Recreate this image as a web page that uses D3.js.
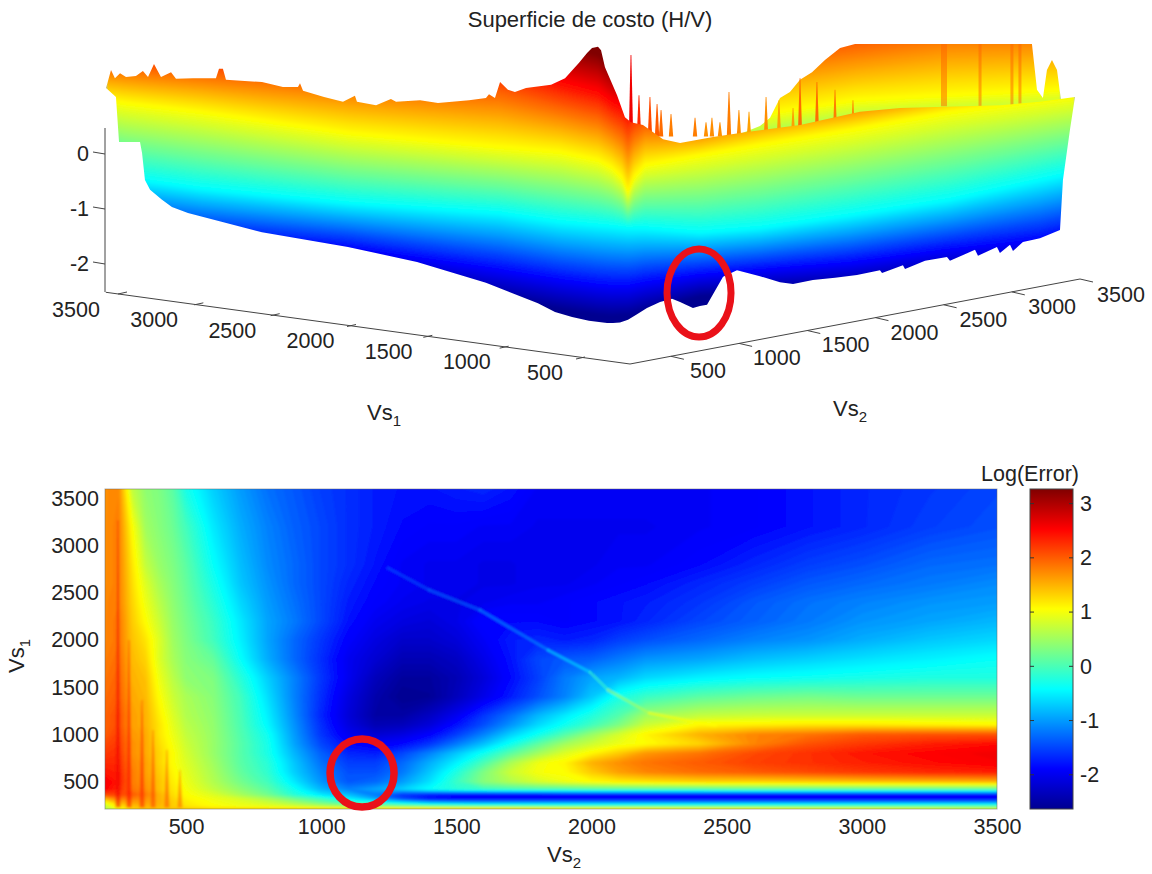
<!DOCTYPE html>
<html>
<head>
<meta charset="utf-8">
<script src="https://cdn.jsdelivr.net/npm/d3@7/dist/d3.min.js"></script>
<style>
  html, body { margin: 0; background: #fff; }
  svg { display: block; font-family: "Liberation Sans", Arial, sans-serif; fill: #222; }
</style>
</head>
<body>
<div id="vis"></div>
<script>
// Valores. Wall = pared frontal de la superficie 3D:
// posicion negativa = lado Vs1, positiva = lado Vs2, 0 = esquina del piso.
const zTicks = [0, -1, -2];
const floorTicks = [500, 1000, 1500, 2000, 2500, 3000, 3500];
const barTicks = [3, 2, 1, 0, -1, -2];
const heatTicksX = [500, 1000, 1500, 2000, 2500, 3000, 3500];
const heatTicksY = [500, 1000, 1500, 2000, 2500, 3000, 3500];

// silueta frontal: borde superior
const topPos = [-3582,-3548,-3521,-3486,-3445,-3377,-3329,-3294,-3253,-3205,-3136,-3102,-2985,-2828,-2807,-2780,-2759,-2512,-2368,-2265,-2251,-2230,-2086,-1956,-1874,-1860,-1729,-1627,-1592,-1427,-1304,-1091,-975,-954,-913,-878,-824,-776,-700,-528,-432,-336,-281,-247,-206,-185,-158,-75,-21,23,116,271,403,658,921,1332,1796,2106,2880,3190,3461];
const topZ = [1.18,1.51,1.36,1.45,1.38,1.40,1.49,1.38,1.62,1.38,1.47,1.35,1.36,1.36,1.53,1.53,1.33,1.29,1.20,1.20,1.27,1.13,1.02,.93,1.04,.93,.87,.98,.93,.96,.91,.96,1.00,1.07,1.00,1.29,1.15,1.11,1.18,1.24,1.36,1.64,1.82,1.91,1.93,1.87,1.56,1.05,.65,.56,.51,.25,.18,.29,.38,.51,.75,.82,.87,.93,1.02];
// silueta frontal: borde inferior
const lowPos = [-3582,-3514,-3493,-3349,-3335,-3315,-3280,-3198,-3130,-3020,-2512,-1922,-1448,-975,-618,-501,-384,-268,-144,-103,-55,0,70,147,248,341,403,503,557,612,736,844,1022,1177,1278,1432,1603,1773,1951,1967,2129,2145,2300,2470,2493,2687,2710,2857,2880,2958,2981,3058,3190,3345,3368,3422,3461];
const lowZ = [1.18,1.02,.20,.20,0,-.49,-.67,-.85,-.98,-1.09,-1.44,-1.71,-1.98,-2.36,-2.73,-2.89,-2.98,-3.05,-3.09,-3.09,-3.08,-3.03,-2.93,-2.82,-2.71,-2.65,-2.71,-2.82,-2.78,-2.76,-2.25,-2.13,-2.24,-2.35,-2.38,-2.31,-2.27,-2.22,-2.13,-2.18,-2.04,-2.11,-1.96,-1.89,-1.96,-1.76,-1.87,-1.71,-1.82,-1.67,-1.78,-1.62,-1.55,-1.40,-.49,.42,1.02];

// altura (z) donde la pared toma cada color puro
const isoPos = [-3576,-3452,-2937,-1915,-878,-467,-206,-110,-41,0,46,132,557,1022,1719,2493,3190,3461];
const isoBlue = [-1.22,-1.36,-1.51,-1.73,-2.13,-2.31,-2.40,-2.42,-2.42,-2.42,-2.40,-2.36,-2.22,-2.13,-2.0,-1.76,-1.58,-1.44];
const isoCyan = [-.35,-.45,-.64,-.91,-1.09,-1.25,-1.31,-1.33,-1.35,-1.36,-1.36,-1.36,-1.44,-1.36,-1.13,-.85,-.49,-.35];
const isoYellow = [.96,.91,.75,.36,.11,.02,-.13,-.27,-.45,-.72,-.45,-.22,-.04,.15,.42,.75,.96,1.04];
const isoRed = [1.96,1.96,1.91,1.82,1.71,1.33,1.15,.96,.87,.78,.87,.96,.78,1.05,1.24,1.51,1.69,1.96];

// capa trasera (lado Vs2, recortada arriba)
const backPos = [852,1022,1100,1177,1254,1332,1425,1525,1642,1758,3128,3167,3213,3244,3283,3322,3353];
const backTop = [.33,.49,.64,1.0,1.11,1.33,1.47,1.69,1.91,1.98,1.98,1.15,1.0,1.51,1.69,1.51,.96];
const backBaseZ = [-0.6, -0.6];
const backIsoPos = [852,1177,1758,2500,3353];
const backBlue = [-1.2,-1.0,-.8,-.7,-.6];
const backCyan = [-.4,-.22,-.1,-.05,0];
const backYellow = [.6,.75,.96,1.05,1.15];
const backRed = [2.05,2.42,2.6,2.96,2.96];

// picos sobre la pared
const spikePos = [23,85,170,225,256,333,519,604,650,712,782,859,937,1069,1169,1278,1332,1463,1603,1742];
const spikeZ = [1.78,1.05,1.02,.89,.78,.71,.64,.56,.64,.56,1.11,.78,.75,1.02,.96,.82,1.36,1.29,1.15,.96];
const spikeLevel = [2.6,2.3,2.1,2,1.9,1.8,1.8,1.7,1.7,1.7,1.8,1.7,1.6,1.7,1.6,1.6,1.9,1.9,1.8,1.7];
const streakPos = [2447,2726,2973,3035];
const streakWidth = [6,3,3,3];

// mapa Log(Error): filas Vs1 de arriba abajo, columnas Vs2
const vs2Grid = [200,250,300,350,400,450,500,600,700,800,900,1000,1100,1200,1300,1400,1500,1600,1700,1800,1900,2000,2100,2200,2400,2600,2800,3000,3250,3500];
const vs1Grid = [3600,3200,2800,2600,2400,2200,2000,1800,1600,1400,1200,1100,1000,900,800,700,600,500,420,360,320,280,240,210];
const logError = [
[1.7,1.75,.7,.4,.3,.1,-.3,-.7,-1,-1.25,-1.4,-1.55,-1.65,-1.75,-1.8,-1.8,-1.75,-1.7,-1.8,-1.95,-1.95,-1.95,-1.95,-1.95,-1.95,-1.9,-1.8,-1.7,-1.6,-1.5],
[1.7,1.8,1.05,.5,.35,.2,-.05,-.55,-.9,-1.15,-1.35,-1.5,-1.65,-1.75,-1.85,-1.9,-1.9,-1.95,-1.95,-2,-2,-2,-2,-2,-1.95,-1.9,-1.8,-1.7,-1.55,-1.45],
[1.7,1.8,1.2,.7,.45,.3,.1,-.4,-.8,-1.1,-1.3,-1.5,-1.65,-1.8,-1.95,-2,-2,-2.05,-2.05,-2,-2,-2,-1.95,-1.95,-1.85,-1.7,-1.55,-1.45,-1.3,-1.25],
[1.7,1.8,1.25,.85,.55,.35,.15,-.3,-.75,-1.05,-1.3,-1.5,-1.7,-1.85,-1.95,-2,-2,-2.05,-2.05,-2,-2,-1.95,-1.9,-1.85,-1.7,-1.55,-1.4,-1.3,-1.2,-1.1],
[1.75,1.8,1.3,.95,.65,.4,.2,-.2,-.65,-1,-1.25,-1.5,-1.75,-1.9,-2,-2.05,-2.05,-2,-1.95,-1.95,-1.9,-1.85,-1.8,-1.75,-1.6,-1.4,-1.25,-1.15,-1.05,-1],
[1.75,1.85,1.35,1.05,.75,.45,.25,-.1,-.55,-.95,-1.2,-1.5,-1.8,-2,-2.1,-2.15,-2.05,-1.85,-1.85,-1.85,-1.9,-1.85,-1.8,-1.7,-1.5,-1.35,-1.2,-1.05,-.95,-.85],
[1.75,1.85,1.4,1.2,.85,.5,.3,-.05,-.5,-.95,-1.3,-1.6,-1.9,-2.1,-2.25,-2.25,-2.15,-1.95,-1.75,-1.7,-1.75,-1.7,-1.55,-1.45,-1.3,-1.15,-1.05,-.9,-.75,-.65],
[1.8,1.9,1.45,1.3,.85,.55,.35,.15,-.4,-.9,-1.3,-1.65,-2,-2.2,-2.4,-2.4,-2.3,-2.05,-1.8,-1.5,-1.4,-1.35,-1.2,-1.05,-.95,-.8,-.7,-.6,-.5,-.4],
[1.85,1.95,1.5,1.4,.95,.65,.4,.3,-.2,-.7,-1.15,-1.6,-2,-2.35,-2.55,-2.55,-2.4,-2.15,-1.85,-1.55,-1.2,-.95,-.85,-.65,-.5,-.4,-.35,-.3,-.25,-.25],
[1.9,2,1.55,1.45,1.05,.75,.55,.35,-.05,-.6,-1.15,-1.65,-2.1,-2.45,-2.64,-2.6,-2.35,-2.05,-1.75,-1.45,-1.15,-.75,-.3,-.1,.1,.2,.25,.2,.2,.2],
[1.95,2.1,1.6,1.5,1.15,.85,.6,.4,0,-.5,-1.1,-1.7,-2.15,-2.5,-2.5,-2.3,-2,-1.6,-1.25,-.85,-.55,-.25,.05,.5,.7,.75,.75,.75,.75,.75],
[1.95,2.1,1.6,1.5,1.2,.9,.65,.42,.02,-.45,-1.05,-1.65,-2.1,-2.4,-2.35,-2.15,-1.8,-1.45,-1.05,-.65,-.35,-.05,.3,.75,1.1,1.15,1.2,1.2,1.15,1.1],
[2,2.15,1.65,1.55,1.2,.95,.7,.44,.05,-.35,-1,-1.6,-2,-2.2,-2.1,-1.9,-1.55,-1.15,-.7,-.35,.05,.45,.8,1.1,1.5,1.75,1.85,2,2.05,2.05],
[2.1,2.2,1.7,1.55,1.25,1,.75,.45,.08,-.3,-.95,-1.5,-1.85,-1.95,-1.85,-1.6,-1.2,-.8,-.35,.1,.5,.75,.95,1.05,1.3,1.75,2.05,2.2,2.35,2.45],
[2.2,2.25,1.7,1.55,1.3,1.05,.8,.45,.08,-.28,-.85,-1.35,-1.7,-1.75,-1.5,-1.15,-.75,-.35,.1,.5,.85,1.1,1.35,1.65,1.85,2.1,2.25,2.4,2.5,2.6],
[2.3,2.3,1.75,1.6,1.3,1.05,.85,.5,.1,-.2,-.75,-1.25,-1.55,-1.55,-1.3,-.9,-.5,0,.55,.95,1.1,1.5,1.7,1.85,2,2.15,2.25,2.35,2.45,2.55],
[2.4,2.35,1.8,1.6,1.35,1.1,.9,.55,.15,-.15,-.7,-1.15,-1.45,-1.45,-1.2,-.75,-.25,.3,.75,1,1.05,1.35,1.6,1.75,1.9,2,2.1,2.2,2.3,2.35],
[2.55,2.4,1.8,1.65,1.4,1.15,.95,.6,.25,-.05,-.55,-1.05,-1.4,-1.3,-1,-.6,-.1,.35,.6,.8,.95,1.05,1.15,1.2,1.3,1.3,1.35,1.4,1.45,1.5],
[2.5,2.3,1.85,1.7,1.4,1.2,1,.7,.4,.1,-.35,-.85,-1.15,-.95,-.7,-.4,-.2,-.1,-.05,0,0,.05,.05,.05,.05,.1,.1,.1,.1,.1],
[2.1,2.15,2,1.8,1.5,1.25,1.05,.85,.55,.25,-.2,-.55,-.8,-1.2,-1.6,-1.75,-1.85,-1.9,-1.9,-1.9,-1.85,-1.85,-1.85,-1.85,-1.85,-1.85,-1.85,-1.85,-1.85,-1.85],
[1.5,1.8,1.8,1.7,1.5,1.3,1.1,.95,.8,.55,.2,-.1,-.5,-.95,-1.5,-1.85,-1.9,-1.9,-1.9,-1.9,-1.9,-1.9,-1.9,-1.9,-1.9,-1.9,-1.9,-1.9,-1.9,-1.9],
[1,1.5,1.6,1.6,1.5,1.35,1.15,1,.9,.75,.5,.2,-.1,-.3,-.6,-.9,-1,-1.05,-1.05,-1.05,-1.05,-1.05,-1.05,-1.05,-1.05,-1.05,-1.05,-1.05,-1.05,-1.05],
[.7,1.2,1.4,1.5,1.45,1.35,1.2,1.05,.95,.9,.8,.65,.5,.4,.3,.2,.15,.1,.1,.05,.05,.05,.05,.05,.05,.05,.05,.05,.05,.05],
[.6,1,1.3,1.4,1.4,1.4,1.35,1.3,1.3,1.3,1.3,1.3,1.3,1.3,1.3,1.3,1.3,1.3,1.3,1.3,1.2,1.2,1.2,1.2,1.1,1.1,1,1,.9,.8]
];
// cresta fina que cruza el mapa
const ridgeVs2 = [1247,1399,1587,1839,1994,2061,2213,2460];
const ridgeVs1 = [2763,2530,2318,1894,1661,1471,1227,1089];
const ridgeLevel = [-1.8,-1.4,-1.3,-1.05,-.6,-.1,.6,1.05];
// franjas verticales del lado izquierdo
const stripeVs2 = [248,289,337,378,429,477];
const stripeTopVs1 = [3270,2000,1365,1047,837,625];
const stripeLevel = [2.6,2.5,2.4,2.2,2.1,2];

const ringHeat = { vs2: 1151, vs1: 591 };
const ringWall = { pos: 550, z: -2.545 };

const width = 1152, height = 874;
const svg = d3.select("#vis").append("svg").attr("width", width).attr("height", height);
const defs = svg.append("defs");
const addBlur = (id, sd) => defs.append("filter").attr("id", id)
  .attr("x", "-5%").attr("y", "-5%").attr("width", "110%").attr("height", "110%")
  .append("feGaussianBlur").attr("stdDeviation", sd);
addBlur("soft", 0.8);
addBlur("softHeat", 1.1);

// ====== COLOR (jet) ======
const C_MIN = -2.64, C_MAX = 3.26;
const jetDomain = [-2.64, -1.9, -0.43, 0.31, 1.05, 2.52, 3.26];
const jetColors = ["#000090", "#0000ff", "#00ffff", "#80ff80", "#ffff00", "#ff0000", "#800000"];
const jet = d3.scaleLinear().domain(jetDomain).range(jetColors).clamp(true);

const TICK_FONT = 21.5;
const addLabel = (g, x, y, base, sub, rotate) => {
  const t = g.append("text").attr("font-size", TICK_FONT + 0.5)
    .attr("text-anchor", "middle")
    .attr("transform", `translate(${x},${y})` + (rotate ? " rotate(-90)" : ""));
  t.append("tspan").text(base);
  t.append("tspan").attr("font-size", 15).attr("dy", 6).text(sub);
};

// ====== SUPERFICIE 3D ======
const gWall = svg.append("g").attr("class", "wall");
const wallX = d3.scaleLinear().domain([-3500, 0, 3500]).range([118, 628, 1080]);
const zY = d3.scaleLinear().domain([0, -2]).range([153, 263]);

const levels = d3.range(C_MIN, C_MAX + 0.04, 0.04);

function drawWall(id, top, low, iso) {
  const outline = [
    ...top.pos.map((p, i) => [wallX(p), zY(top.z[i])]),
    ...low.pos.map((p, i) => [wallX(p), zY(low.z[i])]).reverse()
  ];
  defs.append("clipPath").attr("id", id).append("path").attr("d", d3.line()(outline) + "Z");

  const isoScales = iso.pos.map((p, i) => d3.scaleLinear()
    .domain([-1.9, -0.43, 1.05, 2.52])
    .range([iso.blue[i], iso.cyan[i], iso.yellow[i], iso.red[i]]));

  const g = gWall.append("g").attr("clip-path", `url(#${id})`).append("g").attr("filter", "url(#soft)");
  g.append("rect").attr("x", 0).attr("y", 0).attr("width", width).attr("height", 440).attr("fill", jet(C_MIN));
  levels.forEach(c => {
    const area = d3.area()
      .x((p, i) => wallX(iso.pos[i]))
      .y0((p, i) => zY(isoScales[i](c)))
      .y1(-50);
    g.append("path")
      .attr("d", area(iso.pos))
      .attr("fill", jet(c + 0.02));
  });
}

drawWall("clipBack",
  { pos: backPos, z: backTop },
  { pos: [backPos[0], backPos[backPos.length - 1]], z: backBaseZ },
  { pos: backIsoPos, blue: backBlue, cyan: backCyan, yellow: backYellow, red: backRed });

const gSpikes = gWall.append("g");
spikePos.forEach((p, i) => {
  const x = wallX(p);
  gSpikes.append("path")
    .attr("d", d3.line()([[x - 2.2, zY(0.3)], [x - 0.4, zY(spikeZ[i])], [x + 0.4, zY(spikeZ[i])], [x + 2.2, zY(0.3)]]))
    .attr("fill", jet(spikeLevel[i]));
});
streakPos.forEach((p, i) => {
  gSpikes.append("line")
    .attr("x1", wallX(p)).attr("x2", wallX(p))
    .attr("y1", zY(1.98)).attr("y2", zY(0.85))
    .attr("stroke", jet(1.95)).attr("stroke-opacity", 0.5)
    .attr("stroke-width", streakWidth[i]);
});

drawWall("clipFront",
  { pos: topPos, z: topZ },
  { pos: lowPos, z: lowZ },
  { pos: isoPos, blue: isoBlue, cyan: isoCyan, yellow: isoYellow, red: isoRed });

// ====== EJES 3D ======
const gAxes3d = svg.append("g").attr("class", "axes3d").attr("stroke", "#444").attr("fill", "none");
gAxes3d.append("line").attr("x1", 105).attr("x2", 105).attr("y1", 128).attr("y2", 292);
zTicks.forEach(t => {
  gAxes3d.append("line").attr("x1", 93).attr("x2", 105).attr("y1", zY(t) - 1).attr("y2", zY(t) + 1);
});
const gZLabels = svg.append("g").attr("font-size", TICK_FONT).attr("text-anchor", "end");
zTicks.forEach(t => {
  gZLabels.append("text").attr("x", 89).attr("y", zY(t)).attr("dy", "0.36em").text(t);
});

// piso: eje Vs1 baja hacia la derecha, eje Vs2 sube hacia la derecha
const v1X = d3.scaleLinear().domain([3500, 500]).range([118, 576]);
const v1Y = d3.scaleLinear().domain([3500, 500]).range([294, 359]);
const v2X = d3.scaleLinear().domain([200, 3500]).range([630, 1080]);
const v2Y = d3.scaleLinear().domain([200, 3500]).range([364, 279]);
const v1LabelX = d3.scaleLinear().domain([3500, 500]).range([76, 545]);
const v1LabelY = d3.scaleLinear().domain([3500, 500]).range([309, 372]);
const v2LabelX = d3.scaleLinear().domain([500, 3500]).range([708, 1121]);
const v2LabelY = d3.scaleLinear().domain([500, 3500]).range([370, 294]);

gAxes3d.append("line").attr("x1", v1X(3580)).attr("y1", v1Y(3580)).attr("x2", 630).attr("y2", 364);
gAxes3d.append("line").attr("x1", 630).attr("y1", 364).attr("x2", v2X(3500)).attr("y2", v2Y(3500));
floorTicks.forEach(t => {
  gAxes3d.append("line").attr("x1", v1X(t)).attr("y1", v1Y(t)).attr("x2", v1X(t) + 9).attr("y2", v1Y(t) - 2);
  gAxes3d.append("line").attr("x1", v2X(t)).attr("y1", v2Y(t)).attr("x2", v2X(t) + 13).attr("y2", v2Y(t) + 3);
});
const gFloorLabels = svg.append("g").attr("font-size", TICK_FONT).attr("text-anchor", "middle");
floorTicks.forEach(t => {
  gFloorLabels.append("text").attr("x", v1LabelX(t)).attr("y", v1LabelY(t)).attr("dy", "0.36em").text(t);
  gFloorLabels.append("text").attr("x", v2LabelX(t)).attr("y", v2LabelY(t)).attr("dy", "0.36em").text(t);
});

addLabel(svg, 384, 420, "Vs", "1");
addLabel(svg, 850, 416, "Vs", "2");

svg.append("text").attr("x", 590).attr("y", 27).attr("text-anchor", "middle")
  .attr("font-size", 22).text("Superficie de costo (H/V)");

// ====== MAPA ======
const heatX = d3.scaleLinear().domain([200, 3500]).range([105, 997]);
const heatY = d3.scaleLinear().domain([210, 3600]).range([809, 489]);
const nx = vs2Grid.length, ny = vs1Grid.length;
const idxX = d3.scaleLinear().domain(vs2Grid.map((_, i) => i + 0.5)).range(vs2Grid);
const idxY = d3.scaleLinear().domain(vs1Grid.map((_, i) => i + 0.5)).range(vs1Grid);

const contours = d3.contours().size([nx, ny])
  .thresholds(d3.range(C_MIN, C_MAX, 0.05))(logError.flat());
const heatPath = d3.geoPath(d3.geoTransform({
  point(x, y) { this.stream.point(heatX(idxX(x)), heatY(idxY(y))); }
}));

defs.append("clipPath").attr("id", "clipHeat").append("rect")
  .attr("x", heatX(200)).attr("y", heatY(3600))
  .attr("width", heatX(3500) - heatX(200)).attr("height", heatY(210) - heatY(3600));

const gHeat = svg.append("g").attr("clip-path", "url(#clipHeat)").append("g").attr("filter", "url(#softHeat)");
gHeat.append("rect").attr("x", 90).attr("y", 470).attr("width", 930).attr("height", 360).attr("fill", jet(C_MIN));
gHeat.selectAll("path.band").data(contours).enter().append("path")
  .attr("class", "band")
  .attr("d", heatPath)
  .attr("fill", d => jet(d.value + 0.025));

stripeVs2.forEach((v, i) => {
  const x = heatX(v);
  gHeat.append("path")
    .attr("d", d3.line()([[x - 2.5, heatY(225)], [x - 0.5, heatY(stripeTopVs1[i])], [x + 0.5, heatY(stripeTopVs1[i])], [x + 2.5, heatY(225)]]))
    .attr("fill", jet(stripeLevel[i])).attr("fill-opacity", 0.5);
});
d3.pairs(d3.range(ridgeVs2.length)).forEach(([a, b]) => {
  gHeat.append("line")
    .attr("x1", heatX(ridgeVs2[a])).attr("y1", heatY(ridgeVs1[a]))
    .attr("x2", heatX(ridgeVs2[b])).attr("y2", heatY(ridgeVs1[b]))
    .attr("stroke", jet(ridgeLevel[b])).attr("stroke-width", 2.5).attr("stroke-linecap", "round")
    .attr("stroke-opacity", 0.65);
});

svg.append("rect").attr("x", heatX(200)).attr("y", heatY(3600))
  .attr("width", heatX(3500) - heatX(200)).attr("height", heatY(210) - heatY(3600))
  .attr("fill", "none").attr("stroke", "#666").attr("stroke-opacity", 0.5);

const axB = svg.append("g").attr("transform", `translate(0,${heatY(210)})`)
  .call(d3.axisBottom(heatX).tickValues(heatTicksX).tickSize(0).tickPadding(10).tickFormat(d3.format("d")));
const axL = svg.append("g").attr("transform", `translate(${heatX(200)},0)`)
  .call(d3.axisLeft(heatY).tickValues(heatTicksY).tickSize(0).tickPadding(6).tickFormat(d3.format("d")));
[axB, axL].forEach(a => {
  a.attr("font-family", null).attr("font-size", TICK_FONT);
  a.select(".domain").remove();
  a.selectAll("text").attr("fill", "#222");
});

addLabel(svg, 564, 862, "Vs", "2");
addLabel(svg, 24, 656, "Vs", "1", true);

// ====== BARRA DE COLOR ======
const barY = d3.scaleLinear().domain([C_MIN, C_MAX]).range([809, 489]);
const grad = defs.append("linearGradient").attr("id", "barGrad").attr("x1", 0).attr("x2", 0).attr("y1", 1).attr("y2", 0);
jetDomain.forEach((d, i) => {
  grad.append("stop").attr("offset", (d - C_MIN) / (C_MAX - C_MIN)).attr("stop-color", jetColors[i]);
});
svg.append("rect").attr("x", 1030).attr("y", barY(C_MAX)).attr("width", 43).attr("height", barY(C_MIN) - barY(C_MAX))
  .attr("fill", "url(#barGrad)").attr("stroke", "#444");
barTicks.forEach(t => {
  svg.append("line").attr("x1", 1030).attr("x2", 1034).attr("y1", barY(t) + 0.5).attr("y2", barY(t) + 0.5).attr("stroke", "#333");
  svg.append("line").attr("x1", 1069).attr("x2", 1073).attr("y1", barY(t) + 0.5).attr("y2", barY(t) + 0.5).attr("stroke", "#333");
  svg.append("text").attr("x", 1080).attr("y", barY(t)).attr("dy", "0.36em").attr("font-size", TICK_FONT).text(t);
});
svg.append("text").attr("x", 1030).attr("y", 481).attr("text-anchor", "middle").attr("font-size", 21.5).text("Log(Error)");

// ====== ANILLOS ROJOS ======
svg.append("ellipse").attr("cx", wallX(ringWall.pos)).attr("cy", zY(ringWall.z)).attr("rx", 32).attr("ry", 44)
  .attr("fill", "none").attr("stroke", "#ea1119").attr("stroke-width", 7);
svg.append("ellipse").attr("cx", heatX(ringHeat.vs2)).attr("cy", heatY(ringHeat.vs1)).attr("rx", 32).attr("ry", 34)
  .attr("fill", "none").attr("stroke", "#ea1119").attr("stroke-width", 7.5);
</script>
</body>
</html>
